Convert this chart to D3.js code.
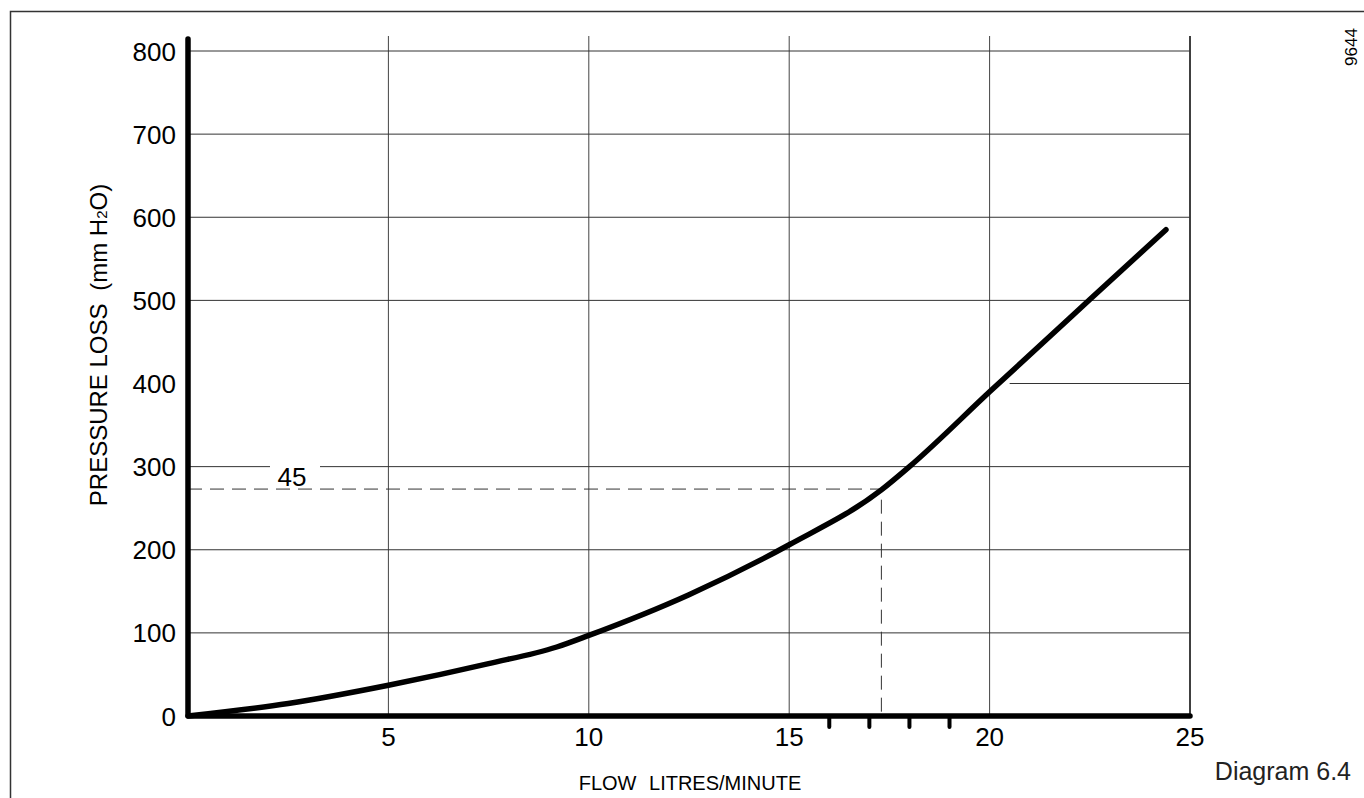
<!DOCTYPE html>
<html>
<head>
<meta charset="utf-8">
<script src="https://cdn.jsdelivr.net/npm/d3@7"></script>
<style>
	body { margin: 0; background: #fff; }
	text { font-family: "Liberation Sans", Arial, sans-serif; fill: #000; }
</style>
</head>
<body>
<div id="chartDiv"></div>
<script>
;(function() {

	// data
	var flow = [0, 2.5, 5, 7.5, 9.2, 10, 12.5, 15, 17.3, 18, 20, 22.5, 24.4];
	var pressure = [0, 15, 37, 63, 83, 97, 146, 206, 272, 300, 390, 501, 585];
	var xTicks = [5, 10, 15, 20, 25];
	var yTicks = [0, 100, 200, 300, 400, 500, 600, 700, 800];
	var minorTicks = [16, 17, 18, 19];
	var markFlow = 17.3;
	var markPressure = 273;
	var markLabel = "45";

	var width = 1364;
	var height = 798;
	var margin = { top: 36, left: 188 };
	var x0 = 188, x1 = 1190;
	var y0 = 716, y1 = 51;

	var svg = d3.select("#chartDiv").append("svg")
		.attr("width", width)
		.attr("height", height);

	var xScale = d3.scaleLinear().domain([0, 25]).range([x0, x1]);
	var yScale = d3.scaleLinear().domain([0, 800]).range([y0, y1]);

	// outer frame
	svg.append("path")
		.attr("d", "M10.5," + height + "V11.5H" + width)
		.attr("fill", "none")
		.attr("stroke", "#333")
		.attr("stroke-width", 1.5);

	var grid = svg.append("g");

	// vertical grid lines
	grid.selectAll(".vgrid")
		.data(xTicks)
		.enter().append("line")
		.attr("x1", function(d) { return xScale(d); })
		.attr("x2", function(d) { return xScale(d); })
		.attr("y1", margin.top)
		.attr("y2", y0)
		.attr("stroke", function(d) { return d == 25 ? "#000" : "#444"; })
		.attr("stroke-width", function(d) { return d == 25 ? 1.5 : 1; });

	// horizontal grid lines (400 only starts right of the curve)
	grid.selectAll(".hgrid")
		.data(yTicks.filter(function(d) { return d > 0; }))
		.enter().append("line")
		.attr("x1", function(d) { return d == 400 ? xScale(20.5) : x0; })
		.attr("x2", x1)
		.attr("y1", function(d) { return yScale(d); })
		.attr("y2", function(d) { return yScale(d); })
		.attr("stroke", "#333")
		.attr("stroke-width", 1);

	// dashed marker lines
	svg.append("path")
		.attr("d", "M" + x0 + "," + yScale(markPressure) + "H" + xScale(markFlow) + "V" + y0)
		.attr("fill", "none")
		.attr("stroke", "#333")
		.attr("stroke-width", 1)
		.attr("stroke-dasharray", "14,8");

	// label box over the 300 gridline
	svg.append("rect")
		.attr("x", 270)
		.attr("y", yScale(300) - 8)
		.attr("width", 50)
		.attr("height", 16)
		.attr("fill", "#fff");
	svg.append("text")
		.attr("x", 292)
		.attr("y", 486)
		.attr("text-anchor", "middle")
		.style("font-size", "26px")
		.text(markLabel);

	// curve
	var line = d3.line()
		.x(function(d) { return xScale(d[0]); })
		.y(function(d) { return yScale(d[1]); })
		.curve(d3.curveMonotoneX);

	svg.append("path")
		.datum(flow.map(function(f, i) { return [f, pressure[i]]; }))
		.attr("d", line)
		.attr("fill", "none")
		.attr("stroke", "#000")
		.attr("stroke-width", 5.5)
		.attr("stroke-linecap", "round")
		.attr("stroke-linejoin", "round");

	// minor ticks under x axis
	svg.selectAll(".minor")
		.data(minorTicks)
		.enter().append("line")
		.attr("x1", function(d) { return xScale(d); })
		.attr("x2", function(d) { return xScale(d); })
		.attr("y1", y0)
		.attr("y2", y0 + 11)
		.attr("stroke", "#000")
		.attr("stroke-width", 4)
		.attr("stroke-linecap", "round");

	// thick axes
	svg.append("path")
		.attr("d", "M" + x0 + "," + (margin.top + 3) + "V" + y0 + "H" + x1)
		.attr("fill", "none")
		.attr("stroke", "#000")
		.attr("stroke-width", 5.5)
		.attr("stroke-linecap", "round")
		.attr("stroke-linejoin", "round");

	// tick labels
	svg.selectAll(".ylab")
		.data(yTicks)
		.enter().append("text")
		.attr("x", 176)
		.attr("y", function(d) { return yScale(d) + 9.5; })
		.attr("text-anchor", "end")
		.style("font-size", "26px")
		.text(function(d) { return d; });

	svg.selectAll(".xlab")
		.data(xTicks)
		.enter().append("text")
		.attr("x", function(d) { return xScale(d); })
		.attr("y", 746)
		.attr("text-anchor", "middle")
		.style("font-size", "26px")
		.text(function(d) { return d; });

	// axis titles
	svg.append("text")
		.attr("x", 690)
		.attr("y", 790)
		.attr("text-anchor", "middle")
		.style("font-size", "20px")
		.style("word-spacing", "7px")
		.text("FLOW  LITRES/MINUTE");

	var yTitle = svg.append("text")
		.attr("text-anchor", "middle")
		.attr("transform", "translate(107, 345) rotate(-90)")
		.style("font-size", "24px");
	yTitle.append("tspan").text("PRESSURE LOSS ");
	yTitle.append("tspan").attr("dx", 6).text("(mm H");
	yTitle.append("tspan").style("font-size", "15px").text("2");
	yTitle.append("tspan").text("O)");

	svg.append("text")
		.attr("x", 1351)
		.attr("y", 780)
		.attr("text-anchor", "end")
		.style("font-size", "25px")
		.style("fill", "#222")
		.text("Diagram 6.4");

	svg.append("text")
		.attr("text-anchor", "middle")
		.attr("transform", "translate(1357, 47) rotate(-90)")
		.style("font-size", "17px")
		.text("9644");

})();
</script>
</body>
</html>
